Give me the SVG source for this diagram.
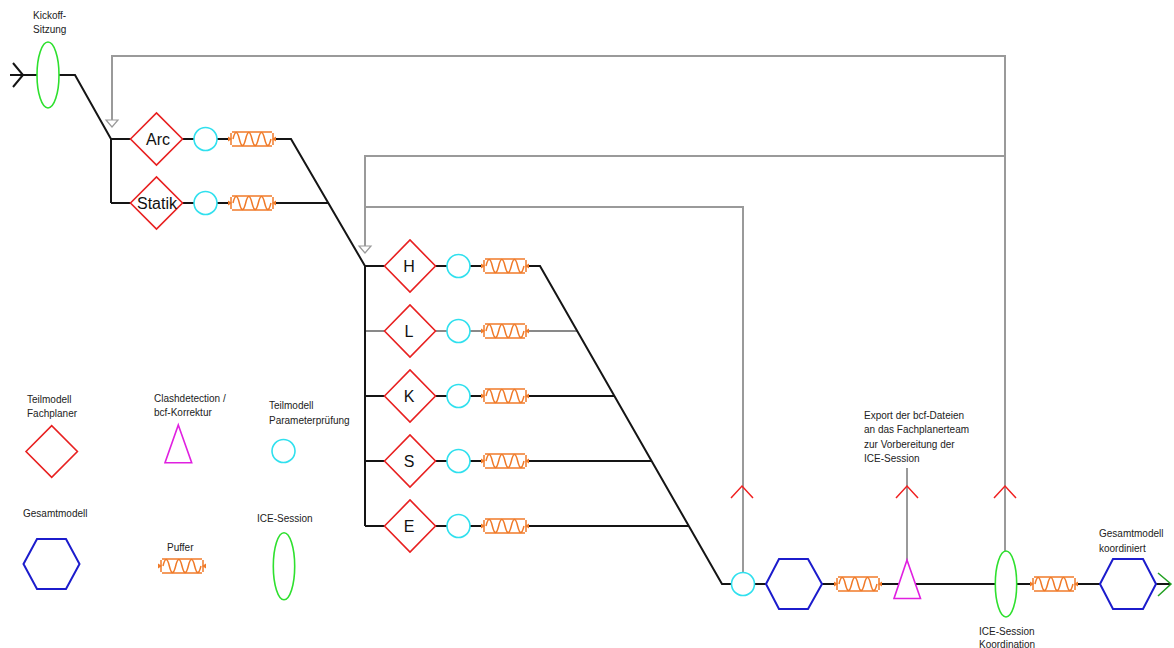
<svg xmlns="http://www.w3.org/2000/svg" xmlns:xlink="http://www.w3.org/1999/xlink" width="1174" height="648" viewBox="0 0 1174 648">
  <style>
    .flow { fill: none; stroke: #151515; stroke-width: 2; stroke-linejoin: miter; }
    .flow-thin { fill: none; stroke: #151515; stroke-width: 1.1; }
    .back { fill: none; stroke: #9a9a9a; stroke-width: 2; }
    .tick { fill: none; stroke: #f02020; stroke-width: 1.5; }
    .planer { fill: #ffffff; stroke: #e82020; stroke-width: 1.6; }
    .pruef { fill: #ffffff; stroke: #30e0ee; stroke-width: 1.6; }
    .gesamt { fill: #ffffff; stroke: #1c1ccc; stroke-width: 2; }
    .ice { fill: #ffffff; stroke: #2ee02e; stroke-width: 1.6; }
    .clash { fill: #ffffff; stroke: #e020e0; stroke-width: 1.6; }
    .buf { fill: none; stroke: #f07a28; stroke-width: 1.5; }
    .buf-fill { fill: #f07a28; stroke: none; }
    .lbl { font-family: "Liberation Sans", Arial, sans-serif; font-size: 10px; fill: #222; }
    .name { font-family: "Liberation Sans", Arial, sans-serif; font-size: 16px; fill: #111; text-anchor: middle; }
  </style>
  <defs>
    <!-- buffer: 48 wide, centred vertically on y=0 -->
    <g id="buffer">
      <rect x="0" y="-8" width="48" height="16" fill="#ffffff"/>
      <line class="buf" x1="4" y1="-7" x2="44" y2="-7"/>
      <line class="buf" x1="4" y1="7" x2="44" y2="7"/>
      <line class="buf" x1="3" y1="-6" x2="3" y2="6"/>
      <line class="buf" x1="45" y1="-6" x2="45" y2="6"/>
      <path class="buf-fill" d="M0,-2.5 L4,0 L0,2.5 Z"/>
      <path class="buf-fill" d="M48,-2.5 L44,0 L48,2.5 Z"/>
      <path class="buf" d="M5,0 q3.17,-13 6.33,0 t6.33,0 t6.33,0 t6.33,0 t6.33,0 t6.33,0"/>
    </g>
  </defs>
  <rect width="1174" height="648" fill="#ffffff"/>

  <!-- connectors -->
  <g id="connectors">
    <!-- feedback lines -->
    <path class="back" d="M1005,551 V56 H112 V120"/>
    <path class="back" d="M1005,156 H365 V246"/>
    <path class="back" d="M743,572 V207 H365"/>
    <path class="back" d="M907,560 V468"/>
    <path d="M106,120 H118 L112,127 Z" fill="#ffffff" stroke="#9a9a9a" stroke-width="1.2"/>
    <path d="M359,246 H371 L365,253 Z" fill="#ffffff" stroke="#9a9a9a" stroke-width="1.2"/>
    <path class="tick" d="M731,498 L742,486 L753,498"/>
    <path class="tick" d="M896,498 L907,486 L918,498"/>
    <path class="tick" d="M994,498 L1005,486 L1016,498"/>

    <!-- start -->
    <path class="flow" d="M10,75 H37"/>
    <path class="flow" d="M13,63 L23,75 L13,87" stroke-width="1.5"/>
    <path class="flow" d="M59,75 H75 L111,139 V203"/>

    <!-- Arc / Statik -->
    <path class="flow" d="M111,139 H131 M182,139 H194 M217,139 H228 M276,139 H291 L365,266"/>
    <path class="flow" d="M111,203 H131 M182,203 H194 M217,203 H228 M276,203 H329"/>

    <!-- H L K S E -->
    <path class="flow" d="M365,266 V526"/>
    <path class="flow" d="M365,266 H385 M435,266 H447 M470,266 H481 M529,266 H540 L722,584 H732"/>
    <path class="flow-thin" d="M365,331 H385 M435,331 H447 M470,331 H481 M529,331 H577"/>
    <path class="flow" d="M365,396 H385 M435,396 H447 M470,396 H481 M529,396 H614"/>
    <path class="flow" d="M365,461 H385 M435,461 H447 M470,461 H481 M529,461 H652"/>
    <path class="flow" d="M365,526 H385 M435,526 H447 M470,526 H481 M529,526 H689"/>

    <!-- coordination line -->
    <path class="flow" d="M755,584 H766 M822,584 H834 M882,584 H899 M915,584 H995 M1017,584 H1030 M1078,584 H1100 M1156,584 H1171"/>
    <path d="M1158,573 L1171,584 L1158,596" fill="none" stroke="#22a022" stroke-width="1.5"/>
  </g>

  <!-- Kickoff -->
  <g id="kickoff">
    <ellipse class="ice" cx="48" cy="75" rx="11" ry="33"/>
    <text class="lbl" x="33" y="19">Kickoff-</text>
    <text class="lbl" x="33" y="33">Sitzung</text>
  </g>

  <!-- Arc -->
  <g id="arc">
    <polygon class="planer" points="130.5,139 156.5,113 182.5,139 156.5,165"/>
    <text class="name" x="158" y="145">Arc</text>
  </g>
  <g id="arc-pruef"><circle class="pruef" cx="205.5" cy="139" r="11.5"/></g>
  <g id="arc-puffer"><use xlink:href="#buffer" x="228" y="139"/></g>

  <!-- Statik -->
  <g id="statik">
    <polygon class="planer" points="130.5,203 156.5,177 182.5,203 156.5,229"/>
    <text class="name" x="157" y="209">Statik</text>
  </g>
  <g id="statik-pruef"><circle class="pruef" cx="205.5" cy="203" r="11.5"/></g>
  <g id="statik-puffer"><use xlink:href="#buffer" x="228" y="203"/></g>

  <!-- H -->
  <g id="h">
    <polygon class="planer" points="384.5,266 410,240 435.5,266 410,292"/>
    <text class="name" x="409" y="272">H</text>
  </g>
  <g id="h-pruef"><circle class="pruef" cx="458.5" cy="266" r="11.5"/></g>
  <g id="h-puffer"><use xlink:href="#buffer" x="481" y="266"/></g>

  <!-- L -->
  <g id="l">
    <polygon class="planer" points="384.5,331 410,305 435.5,331 410,357"/>
    <text class="name" x="409" y="337">L</text>
  </g>
  <g id="l-pruef"><circle class="pruef" cx="458.5" cy="331" r="11.5"/></g>
  <g id="l-puffer"><use xlink:href="#buffer" x="481" y="331"/></g>

  <!-- K -->
  <g id="k">
    <polygon class="planer" points="384.5,396 410,370 435.5,396 410,422"/>
    <text class="name" x="409" y="402">K</text>
  </g>
  <g id="k-pruef"><circle class="pruef" cx="458.5" cy="396" r="11.5"/></g>
  <g id="k-puffer"><use xlink:href="#buffer" x="481" y="396"/></g>

  <!-- S -->
  <g id="s">
    <polygon class="planer" points="384.5,461 410,435 435.5,461 410,487"/>
    <text class="name" x="409" y="467">S</text>
  </g>
  <g id="s-pruef"><circle class="pruef" cx="458.5" cy="461" r="11.5"/></g>
  <g id="s-puffer"><use xlink:href="#buffer" x="481" y="461"/></g>

  <!-- E -->
  <g id="e">
    <polygon class="planer" points="384.5,526 410,500 435.5,526 410,552"/>
    <text class="name" x="409" y="532">E</text>
  </g>
  <g id="e-pruef"><circle class="pruef" cx="458.5" cy="526" r="11.5"/></g>
  <g id="e-puffer"><use xlink:href="#buffer" x="481" y="526"/></g>

  <!-- coordination chain -->
  <g id="gesamt-pruef"><circle class="pruef" cx="743" cy="584" r="11.5"/></g>
  <g id="gesamtmodell">
    <polygon class="gesamt" points="766,584 779,559 808,559 822,584 808,609 779,609"/>
  </g>
  <g id="gesamt-puffer"><use xlink:href="#buffer" x="834" y="584"/></g>
  <g id="clashdetection">
    <polygon class="clash" points="907,560 920.5,598.5 894,598.5"/>
    <text class="lbl" x="864" y="419">Export der bcf-Dateien</text>
    <text class="lbl" x="864" y="433">an das Fachplanerteam</text>
    <text class="lbl" x="864" y="448">zur Vorbereitung der</text>
    <text class="lbl" x="864" y="462">ICE-Session</text>
  </g>
  <g id="ice-koordination">
    <ellipse class="ice" cx="1006" cy="584" rx="10.7" ry="33"/>
    <text class="lbl" x="979" y="635">ICE-Session</text>
    <text class="lbl" x="979" y="648">Koordination</text>
  </g>
  <g id="koord-puffer"><use xlink:href="#buffer" x="1030" y="584"/></g>
  <g id="gesamtmodell-koordiniert">
    <polygon class="gesamt" points="1100,584 1113,559 1143,559 1156,584 1143,609 1113,609"/>
    <text class="lbl" x="1099" y="537">Gesamtmodell</text>
    <text class="lbl" x="1099" y="552">koordiniert</text>
  </g>

  <!-- legend -->
  <g id="legend-fachplaner">
    <text class="lbl" x="27" y="403">Teilmodell</text>
    <text class="lbl" x="27" y="417">Fachplaner</text>
    <polygon class="planer" points="26,451.5 51.7,425.7 77.4,451.5 51.7,477.3"/>
  </g>
  <g id="legend-clash">
    <text class="lbl" x="154" y="402">Clashdetection /</text>
    <text class="lbl" x="154" y="416">bcf-Korrektur</text>
    <polygon class="clash" points="178.3,425 191.7,462.7 165,462.7"/>
  </g>
  <g id="legend-pruef">
    <text class="lbl" x="269" y="409">Teilmodell</text>
    <text class="lbl" x="269" y="424">Parameterprüfung</text>
    <circle class="pruef" cx="283.5" cy="451" r="11.5"/>
  </g>
  <g id="legend-gesamt">
    <text class="lbl" x="23" y="517">Gesamtmodell</text>
    <polygon class="gesamt" points="23.5,564 37,539 66,539 79.5,564 66,589 37,589"/>
  </g>
  <g id="legend-puffer">
    <text class="lbl" x="167" y="551">Puffer</text>
    <use xlink:href="#buffer" x="158" y="566"/>
  </g>
  <g id="legend-ice">
    <text class="lbl" x="257" y="522">ICE-Session</text>
    <ellipse class="ice" cx="284" cy="566.3" rx="10.7" ry="33.5"/>
  </g>
</svg>
